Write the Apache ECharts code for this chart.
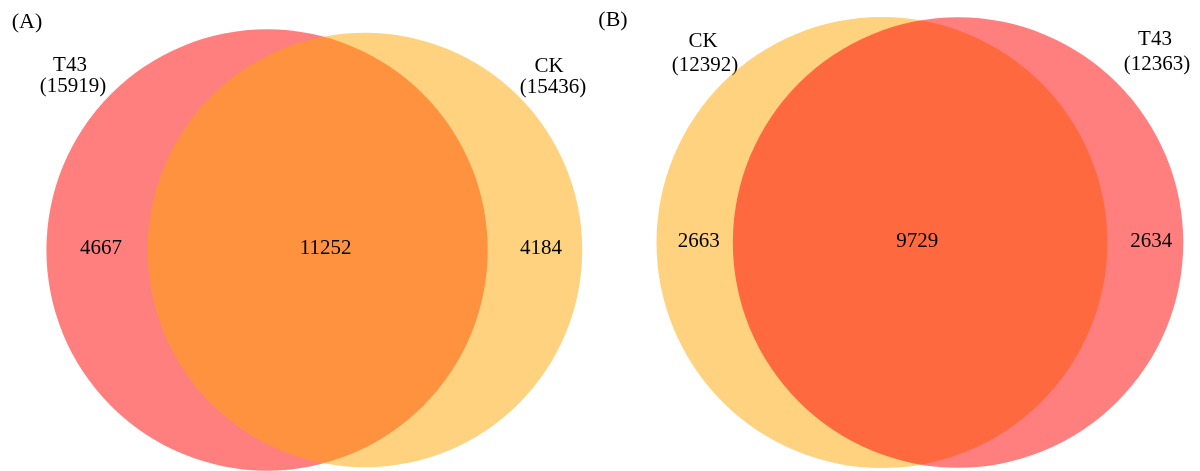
<!DOCTYPE html>
<html>
<head>
<meta charset="utf-8">
<script src="https://cdn.jsdelivr.net/npm/echarts@6/dist/echarts.min.js"></script>
<style>
  html, body { margin: 0; padding: 0; background: #ffffff; }
  #chart { width: 1200px; height: 471px; }
</style>
</head>
<body>
<div id="chart"></div>
<script>
// ---- data -------------------------------------------------------------
const panelTags = ['(A)', '(B)'];

const setNamesA = ['T43', 'CK'];
const setTotalsA = [15919, 15436];
const regionCountsA = [4667, 11252, 4184];   // first only, shared, second only

const setNamesB = ['CK', 'T43'];
const setTotalsB = [12392, 12363];
const regionCountsB = [2663, 9729, 2634];

// ---- styling ----------------------------------------------------------
const FONT = '"Liberation Serif", "Times New Roman", Times, serif';
const FILL = { T43: 'rgba(255,0,0,0.5)', CK: 'rgba(255,165,0,0.5)' };

// ---- area-proportional geometry ----------------------------------------
function radiusOf(n) { return Math.sqrt(n / Math.PI); }

function lensArea(r1, r2, d) {
  if (d >= r1 + r2) return 0;
  if (d <= Math.abs(r1 - r2)) return Math.PI * Math.min(r1, r2) ** 2;
  const a1 = Math.acos((d * d + r1 * r1 - r2 * r2) / (2 * d * r1));
  const a2 = Math.acos((d * d + r2 * r2 - r1 * r1) / (2 * d * r2));
  const k = Math.sqrt((-d + r1 + r2) * (d + r1 - r2) * (d - r1 + r2) * (d + r1 + r2));
  return r1 * r1 * a1 + r2 * r2 * a2 - 0.5 * k;
}

function centreDistance(r1, r2, shared) {
  let lo = Math.abs(r1 - r2), hi = r1 + r2;
  for (let i = 0; i < 80; i++) {
    const mid = (lo + hi) / 2;
    if (lensArea(r1, r2, mid) > shared) lo = mid; else hi = mid;
  }
  return (lo + hi) / 2;
}

function vennLayout(totals, counts) {
  const r1 = radiusOf(totals[0]);
  const r2 = radiusOf(totals[1]);
  const d = centreDistance(r1, r2, counts[1]);
  const c1 = -d / 2, c2 = d / 2;
  return {
    circles: [[c1, 0, r1], [c2, 0, r2]],
    labels: [
      [((c1 - r1) + (c2 - r2)) / 2, 0, counts[0]],
      [((c2 - r2) + (c1 + r1)) / 2, 0, counts[1]],
      [((c1 + r1) + (c2 + r2)) / 2, 0, counts[2]]
    ]
  };
}

const layoutA = vennLayout(setTotalsA, regionCountsA);
const layoutB = vennLayout(setTotalsB, regionCountsB);

// each panel: pixel box, pixels per unit, where the pair's midpoint sits,
// and small pixel nudges for the three region counts
const panels = [
  { left: 0,   width: 600, scale: 3.10, midX: 316, midY: 250,
    nudgeX: [4, 8, 6], nudgeY: -1.5 },
  { left: 600, width: 600, scale: 3.59, midX: 320, midY: 242.5,
    nudgeX: [4, -3, 6], nudgeY: -1.5 }
];
const H = 471;

const grids = [], xAxes = [], yAxes = [];
panels.forEach(function (p, i) {
  grids.push({ left: p.left, top: 0, width: p.width, height: H, containLabel: false, show: false });
  xAxes.push({ type: 'value', gridIndex: i, show: false,
    min: -p.midX / p.scale, max: (p.width - p.midX) / p.scale });
  yAxes.push({ type: 'value', gridIndex: i, show: false,
    min: -(H - p.midY) / p.scale, max: p.midY / p.scale });
});

function circleSeries(i, layout, names) {
  return {
    type: 'custom', xAxisIndex: i, yAxisIndex: i, clip: false, silent: true,
    data: layout.circles,
    renderItem: function (params, api) {
      const c = api.coord([api.value(0), api.value(1)]);
      const r = api.size([api.value(2), 0])[0];
      return { type: 'circle', shape: { cx: c[0], cy: c[1], r: r },
        style: { fill: FILL[names[params.dataIndex]] } };
    }
  };
}

function countSeries(i, layout) {
  const p = panels[i];
  return {
    type: 'custom', xAxisIndex: i, yAxisIndex: i, clip: false, silent: true,
    data: layout.labels,
    renderItem: function (params, api) {
      const c = api.coord([api.value(0), api.value(1)]);
      return { type: 'text', x: c[0] + p.nudgeX[params.dataIndex], y: c[1] + p.nudgeY,
        style: { text: String(api.value(2)), fill: '#000', font: '21px ' + FONT,
          align: 'center', verticalAlign: 'middle' } };
    }
  };
}

function txt(s, x, y, size) {
  return { type: 'text', x: x, y: y, silent: true,
    style: { text: s, fill: '#000', font: (size || 21) + 'px ' + FONT,
      align: 'center', verticalAlign: 'middle' } };
}

const chart = echarts.init(document.getElementById('chart'), null, { renderer: 'canvas' });
chart.setOption({
  animation: false,
  backgroundColor: '#ffffff',
  grid: grids, xAxis: xAxes, yAxis: yAxes,
  series: [
    circleSeries(0, layoutA, setNamesA), countSeries(0, layoutA),
    circleSeries(1, layoutB, setNamesB), countSeries(1, layoutB)
  ],
  graphic: [
    txt(panelTags[0], 27, 22, 22),
    txt(panelTags[1], 613, 20, 22),
    txt(setNamesA[0], 70, 65), txt('(' + setTotalsA[0] + ')', 73, 86),
    txt(setNamesA[1], 549, 66), txt('(' + setTotalsA[1] + ')', 553, 87),
    txt(setNamesB[0], 703, 41), txt('(' + setTotalsB[0] + ')', 705, 65),
    txt(setNamesB[1], 1155, 39), txt('(' + setTotalsB[1] + ')', 1157, 64)
  ]
});
</script>
</body>
</html>
